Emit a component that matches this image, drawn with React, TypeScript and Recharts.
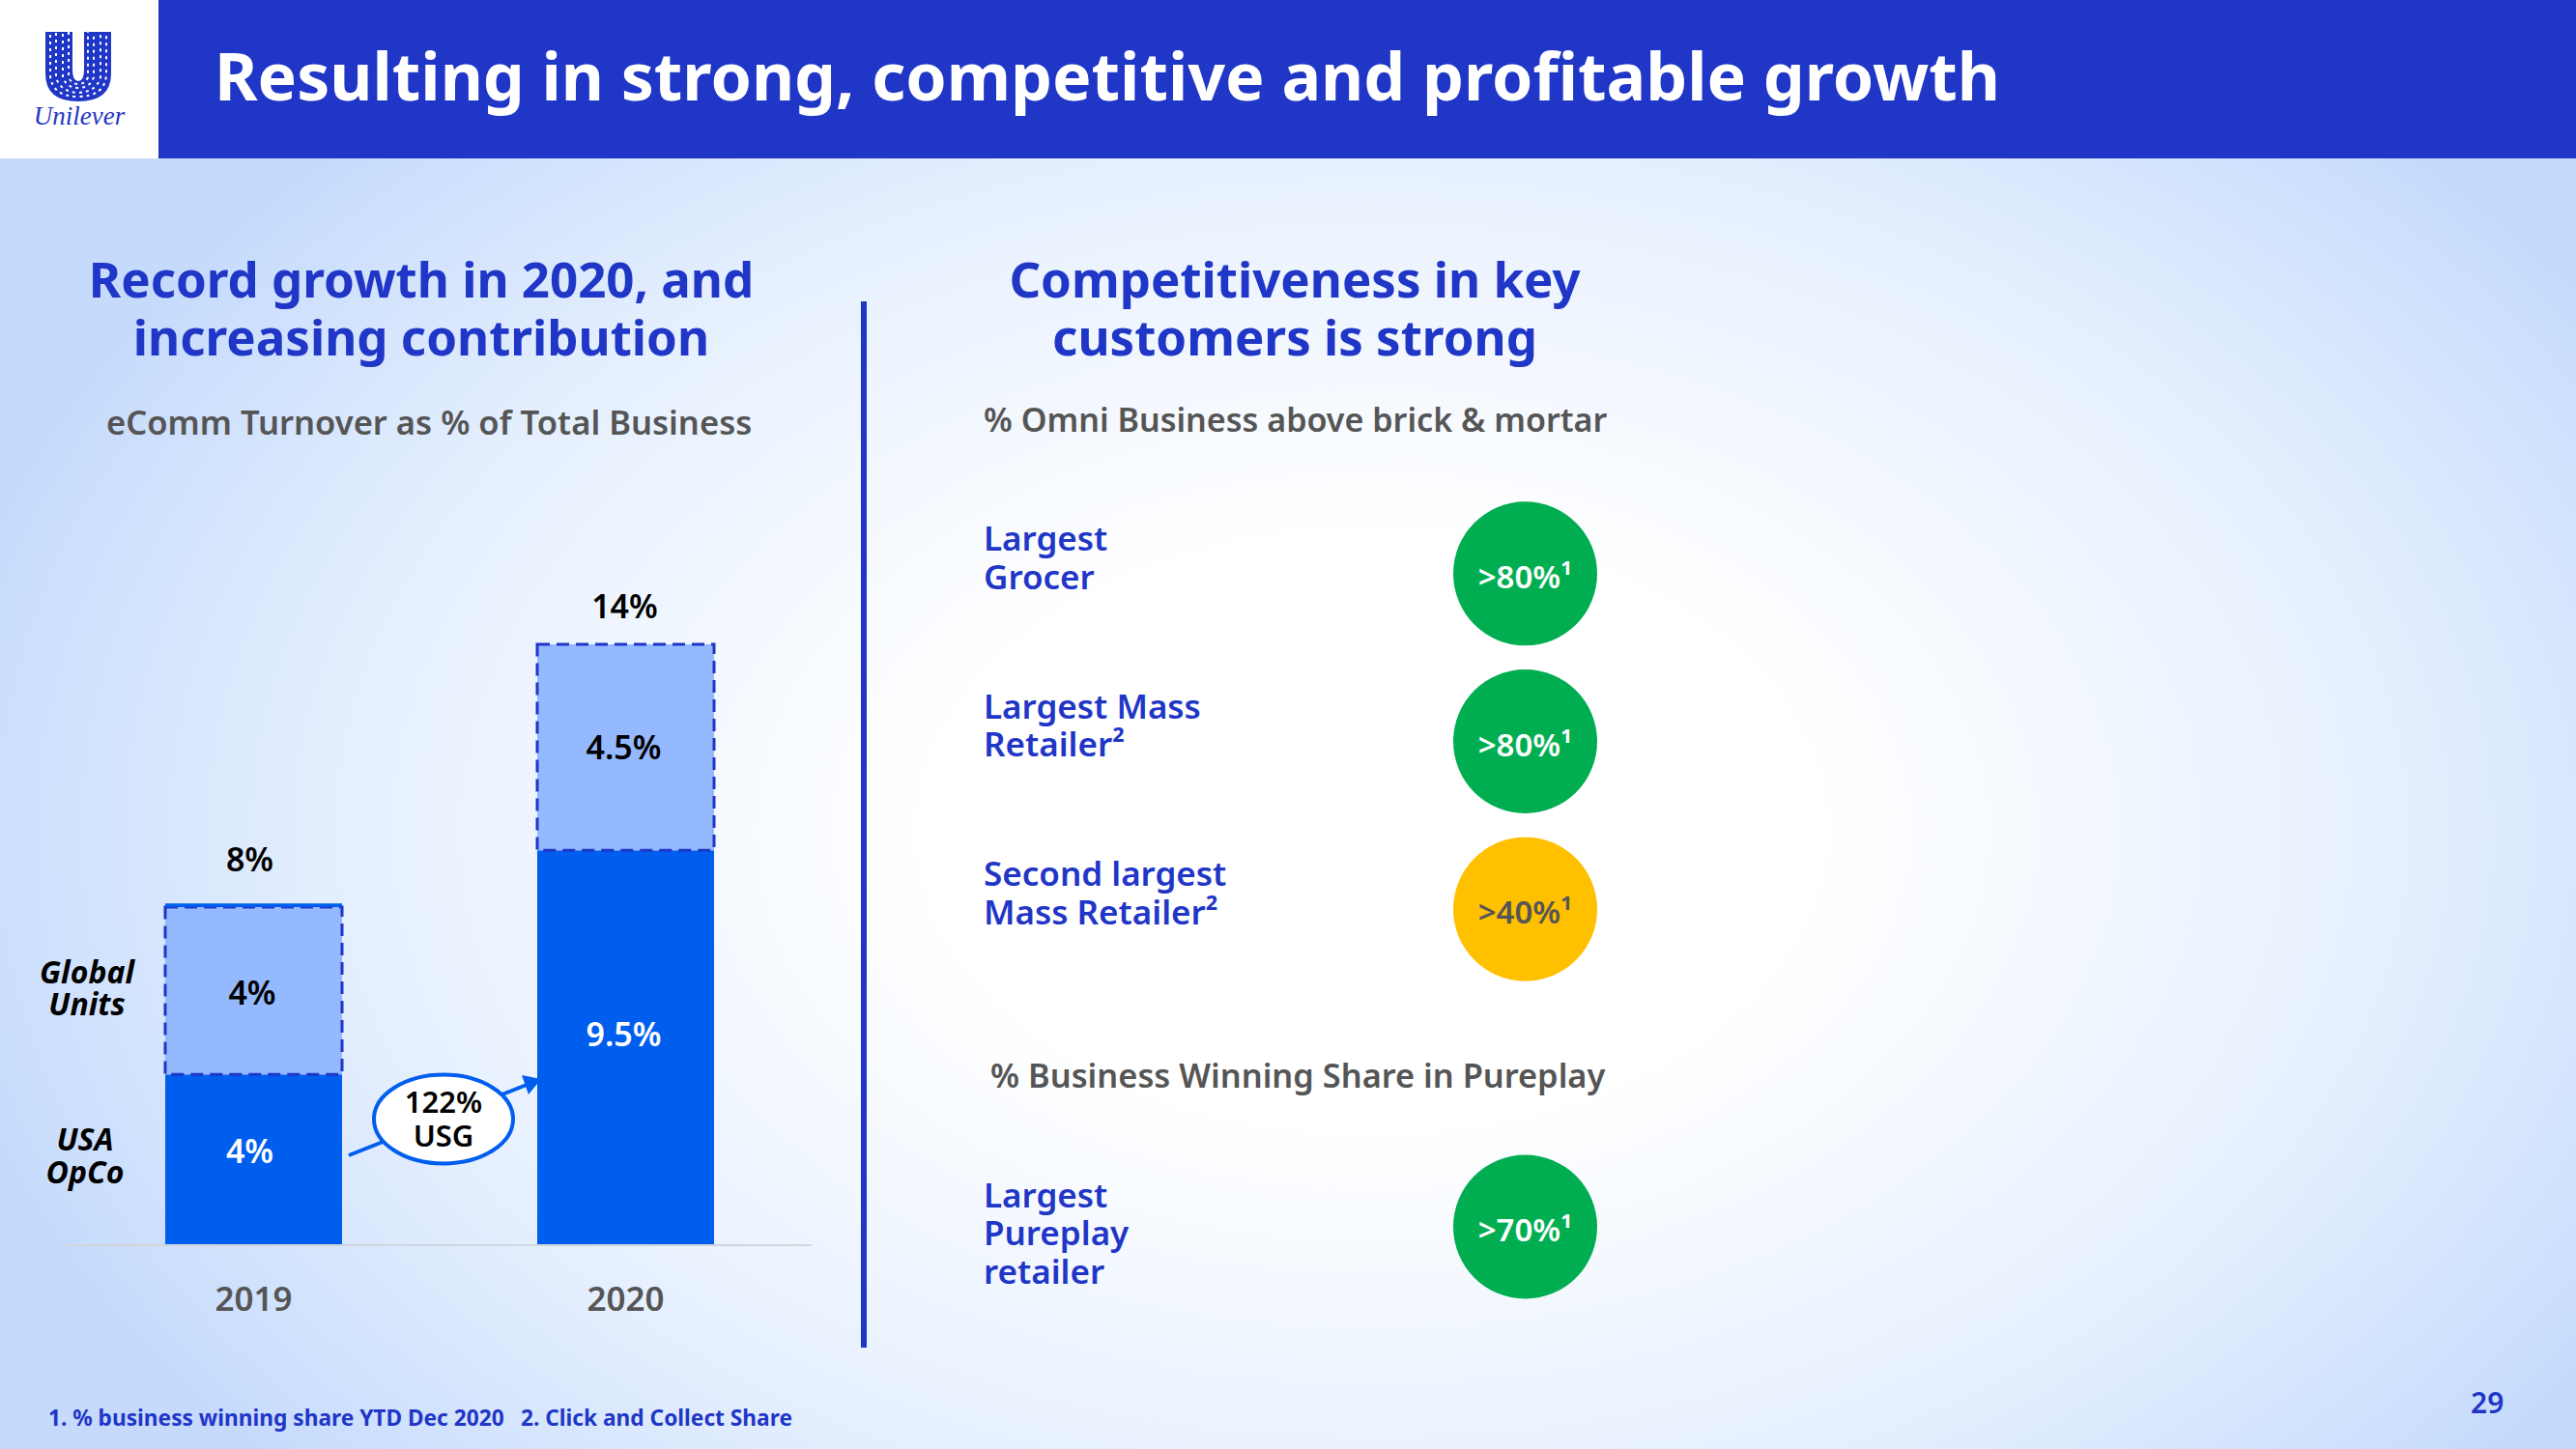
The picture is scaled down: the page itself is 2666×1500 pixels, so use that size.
import { BarChart, Bar, XAxis, YAxis, LabelList, ScatterChart, Scatter } from 'recharts';

// bar heights as drawn on the slide (the 2020 split sits a little below the printed 9.5)
const years = ['2019', '2020'];
const usaOpco = [3.98, 9.2];
const globalUnits = [3.9, 4.8];
const topEdge = [0.08, 0]; // 2019 has a thin solid line along the top of the dashed box
const usaLabels = ['4%', '9.5%'];
const globalLabels = ['4%', '4.5%'];
const totalLabels = ['8%', '14%'];

const omniRetailers = ['Largest\nGrocer', 'Largest Mass\nRetailer²', 'Second largest\nMass Retailer²'];
const omniValues = ['>80%¹', '>80%¹', '>40%¹'];
const omniColors = ['#00ae51', '#00ae51', '#ffc000'];
const pureplayRetailers = ['Largest\nPureplay\nretailer'];
const pureplayValues = ['>70%¹'];
const pureplayColors = ['#00ae51'];

const barData = years.map((year, i) => ({
  year,
  usa: usaOpco[i],
  global: globalUnits[i],
  edge: topEdge[i],
  usaLabel: usaLabels[i],
  globalLabel: globalLabels[i],
  totalLabel: totalLabels[i],
}));

const toRows = (names: string[], values: string[], colors: string[]) =>
  names.map((retailer, i) => ({ retailer, metric: 'share', value: values[i], color: colors[i] }));

const FONT = '"Noto Sans", sans-serif';
const BLUE = '#1f36c7';
const GREY = '#555555';

function RetailerTick({ y, payload }: any) {
  const lines = String(payload.value).split('\n');
  const shift = lines.length === 3 ? 7 : -16;
  const first = y + 12 + shift - ((lines.length - 1) * 39.5) / 2;
  return (
    <text fontFamily={FONT} fontSize={35} fontWeight={600} fill={BLUE}>
      {lines.map((line, i) => (
        <tspan key={line} x={0} y={first + i * 39.5}>{line}</tspan>
      ))}
    </text>
  );
}

function Badge({ cx, cy, payload }: any) {
  const dark = payload.color === '#ffc000';
  return (
    <g>
      <circle cx={cx} cy={cy} r={74.5} fill={payload.color} />
      <text x={cx} y={cy + 15} textAnchor="middle" fontFamily={FONT} fontSize={33} fontWeight={600} fill={dark ? GREY : '#ffffff'}>
        {payload.value}
      </text>
    </g>
  );
}

function BadgeChart({ rows, top, height }: { rows: any[]; top: number; height: number }) {
  return (
    <div style={{ position: 'absolute', left: 1018, top }}>
      <ScatterChart width={700} height={height} margin={{ top: 0, right: 79, bottom: 0, left: 0 }}>
        <XAxis xAxisId={0} type="category" dataKey="metric" hide allowDuplicatedCategory={false} />
        <YAxis yAxisId={0} type="category" dataKey="retailer" width={500} axisLine={false} tickLine={false} scale="band" reversed interval={0} tick={<RetailerTick />} />
        <Scatter data={rows} isAnimationActive={false} shape={<Badge />} />
      </ScatterChart>
    </div>
  );
}

// the printed labels do not sit exactly in the middle of their boxes
const barLabel = (fill: string, dx: number[], dy: number[], above = false) => (props: any) => {
  const { x, y, width, height, value, index } = props;
  const base = above ? y : y + height / 2 + 12;
  return (
    <text x={x + width / 2 + dx[index]} y={base + dy[index]} textAnchor="middle" fontFamily={FONT} fontSize={34} fontWeight={600} fill={fill} stroke="none">
      {value}
    </text>
  );
};

function Logo() {
  return (
    <g>
      <path
        d="M47 33 H75 V72 Q75 84 81 84 Q87 84 87 72 V33 H115 V76 Q115 105 81 105 Q47 105 47 76 Z"
        fill={BLUE}
      />
      <path
        d="M52 36 V78 Q54 100 81 100 Q108 100 110 78 V36 M58 34 V80 Q62 95 81 96 Q100 95 104 80 V34 M65 35 V80 Q69 91 81 91 Q93 91 97 80 V35 M71 33 V80 Q74 87 81 87 Q88 87 91 80 V33"
        fill="none"
        stroke="#ffffff"
        strokeWidth={2}
        strokeDasharray="3 4"
      />
      <text x={82} y={129} textAnchor="middle" fontFamily='"Liberation Serif", serif' fontStyle="italic" fontSize={27} fill={BLUE}>
        Unilever
      </text>
    </g>
  );
}

export default function App() {
  return (
    <div
      style={{
        position: 'absolute',
        left: 0,
        top: 0,
        width: 2666,
        height: 1500,
        overflow: 'hidden',
        background: 'radial-gradient(ellipse 1500px 1000px at 1420px 860px, #ffffff 0%, #ffffff 30%, #e6f0fe 70%, #c6dbfc 100%)',
      }}
    >
      <svg width={2666} height={1500} style={{ position: 'absolute', left: 0, top: 0 }}>
        <rect x={0} y={0} width={2666} height={164} fill={BLUE} />
        <rect x={0} y={0} width={164} height={164} fill="#ffffff" />
        <Logo />
        <text x={222} y={104} fontFamily={FONT} fontSize={68} fontWeight={700} fill="#ffffff">
          Resulting in strong, competitive and profitable growth
        </text>

        <g fontFamily={FONT} fontWeight={700} fill={BLUE} fontSize={51} textAnchor="middle">
          <text>
            <tspan x={436} y={308}>Record growth in 2020, and</tspan>
            <tspan x={436} y={368}>increasing contribution</tspan>
          </text>
          <text>
            <tspan x={1340} y={308}>Competitiveness in key</tspan>
            <tspan x={1340} y={368}>customers is strong</tspan>
          </text>
        </g>
        <g fontFamily={FONT} fontWeight={600} fill={GREY}>
          <text x={110} y={450} fontSize={34.6}>eComm Turnover as % of Total Business</text>
          <text x={1018} y={447} fontSize={34.1}>% Omni Business above brick &amp; mortar</text>
          <text x={1025} y={1126} fontSize={34.4}>% Business Winning Share in Pureplay</text>
        </g>

        <rect x={891} y={312} width={6} height={1083} fill={BLUE} />

        <g fontFamily={FONT} fontWeight={700} fontStyle="italic" fontSize={32} fill="#000000" textAnchor="middle">
          <text>
            <tspan x={90} y={1018}>Global</tspan>
            <tspan x={90} y={1051}>Units</tspan>
          </text>
          <text>
            <tspan x={88} y={1191}>USA</tspan>
            <tspan x={88} y={1225}>OpCo</tspan>
          </text>
        </g>

        <g fontFamily={FONT} fontWeight={700} fontSize={22.7} fill={BLUE}>
          <text x={50} y={1476}>1. % business winning share YTD Dec 2020</text>
          <text x={539} y={1476}>2. Click and Collect Share</text>
        </g>
        <text x={2557} y={1463} fontFamily={FONT} fontWeight={600} fontSize={30} fill={BLUE}>29</text>
      </svg>

      <div style={{ position: 'absolute', left: 0, top: 0 }}>
        <BarChart
          width={2666}
          height={1500}
          data={barData}
          barSize={183}
          margin={{ top: 667, right: 1826, bottom: 151, left: 70 }}
        >
          <XAxis
            dataKey="year"
            height={60}
            tickLine={false}
            stroke="#d2d6dc"
            strokeWidth={2}
            tickMargin={37}
            tick={{ fontFamily: FONT, fontSize: 35, fontWeight: 600, fill: GREY, strokeWidth: 0 }}
          />
          <YAxis hide domain={[0, 14]} />
          <Bar dataKey="usa" stackId="share" fill="#005eef" isAnimationActive={false}>
            <LabelList dataKey="usaLabel" content={barLabel('#ffffff', [-4, -2], [-9, -14])} />
          </Bar>
          <Bar
            dataKey="global"
            stackId="share"
            fill="#94b9ff"
            stroke={BLUE}
            strokeWidth={3}
            strokeDasharray="13 7"
            isAnimationActive={false}
          >
            <LabelList dataKey="globalLabel" content={barLabel('#000000', [-1.5, -2], [2, 0])} />
            <LabelList dataKey="totalLabel" content={barLabel('#000000', [-4, -1], [-37, -27], true)} />
          </Bar>
          <Bar dataKey="edge" stackId="share" fill="#005eef" isAnimationActive={false} />
        </BarChart>
      </div>

      <BadgeChart rows={toRows(omniRetailers, omniValues, omniColors)} top={507} height={521} />
      <BadgeChart rows={toRows(pureplayRetailers, pureplayValues, pureplayColors)} top={1183} height={174} />

      <svg width={2666} height={1500} style={{ position: 'absolute', left: 0, top: 0, pointerEvents: 'none' }}>
        <line x1={361} y1={1196} x2={545} y2={1123} stroke="#005eef" strokeWidth={4} />
        <polygon points="560,1117 540,1113 547,1133" fill="#005eef" />
        <ellipse cx={459} cy={1158.5} rx={72} ry={46} fill="#ffffff" stroke="#005eef" strokeWidth={4} />
        <text fontFamily={FONT} fontWeight={600} fontSize={31} fill="#000000" textAnchor="middle">
          <tspan x={459} y={1152}>122%</tspan>
          <tspan x={459} y={1187}>USG</tspan>
        </text>
      </svg>
    </div>
  );
}
